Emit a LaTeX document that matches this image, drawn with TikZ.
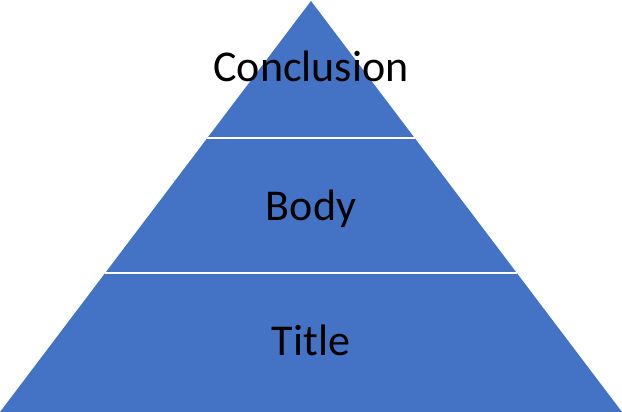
\documentclass[tikz,border=0pt]{standalone}
\usepackage{fontspec}
\setmainfont{Carlito}
\usepackage{xcolor}
\usetikzlibrary{calc}
\definecolor{layerblue}{RGB}{68,114,196}

\begin{document}
\begin{tikzpicture}[x=1pt,y=-1pt]
	\useasboundingbox (0,0) rectangle (622,412);
	\coordinate (apex) at (311,1);
	\coordinate (bl) at (0,412);
	\coordinate (br) at (622,412);
	\coordinate (l1) at ($(apex)!137/411!(bl)$);
	\coordinate (r1) at ($(apex)!137/411!(br)$);
	\coordinate (l2) at ($(apex)!272/411!(bl)$);
	\coordinate (r2) at ($(apex)!272/411!(br)$);
	
	\fill[layerblue] (apex) -- (bl) -- (br) -- cycle;
	\draw[white, line width=1.6pt] (l1) -- (r1);
	\draw[white, line width=1.6pt] (l2) -- (r2);
	
	\node[anchor=base, font=\fontsize{44}{50}\selectfont] (conclusion) at (311,82) {Conclusion};
	\node[anchor=base, font=\fontsize{44}{50}\selectfont] (body) at (311,220) {Body};
	\node[anchor=base, font=\fontsize{44}{50}\selectfont] (title) at (311,355) {Title};
\end{tikzpicture}
\end{document}
